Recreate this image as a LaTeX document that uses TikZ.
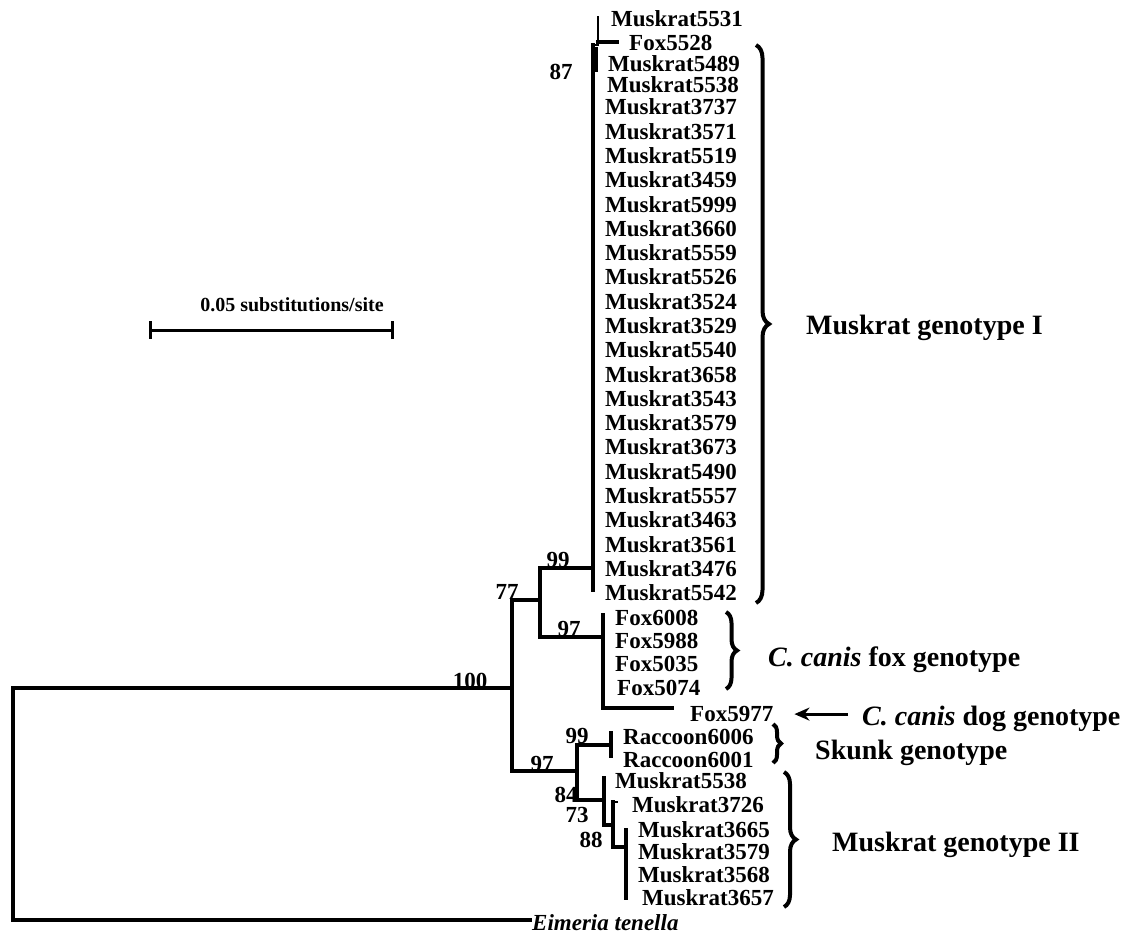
\documentclass[tikz,border=0pt]{standalone}
\usepackage{fontspec}
\setmainfont{Liberation Serif}
\usetikzlibrary{decorations.pathreplacing,arrows.meta}
\begin{document}
\begin{tikzpicture}[x=1pt,y=-1pt,
  br/.style={line width=3.5pt, line cap=rect},
  thinbr/.style={line width=2.2pt, line cap=rect},
  leaf/.style={anchor=base west, inner sep=0pt, font=\fontsize{23}{23}\selectfont\bfseries},
  boot/.style={inner sep=0pt, font=\fontsize{23}{23}\selectfont\bfseries},
  grp/.style={anchor=base west, inner sep=0pt, font=\fontsize{28}{28}\selectfont\bfseries},
  brc/.style={decorate, decoration={brace, amplitude=#1}, line width=4pt},
  arr/.style={line width=3pt, -{Stealth[length=15pt,width=13pt]}}]
\useasboundingbox[fill=white] (0,0) rectangle (1131,933);

% ---- tree coordinates
\coordinate (root) at (13,688);
\coordinate (rootb) at (13,920);
\coordinate (eim) at (530,920);
\coordinate (nA) at (512,688);
\coordinate (nAt) at (512,600);
\coordinate (nAb) at (512,771);
\coordinate (nBt) at (540,568);
\coordinate (nBm) at (540,600);
\coordinate (nBb) at (540,637);
\coordinate (nC) at (593,568);
\coordinate (nCt) at (593,45);
\coordinate (nCb) at (593,590);
\coordinate (nD) at (603,637);
\coordinate (nDt) at (603,615);
\coordinate (nDb) at (603,708);
\coordinate (f77) at (672,708);
\coordinate (nEt) at (577,745);
\coordinate (nEm) at (577,771);
\coordinate (nEb) at (577,800);
\coordinate (nR) at (611,745);
\coordinate (nRt) at (611,733);
\coordinate (nRb) at (611,756);
\coordinate (nF) at (604,800);
\coordinate (nFt) at (604,778);
\coordinate (nFb) at (604,825);
\coordinate (nG) at (613,825);
\coordinate (nGt) at (613,802);
\coordinate (nGh) at (617,802);
\coordinate (nGb) at (613,847);
\coordinate (nH) at (626,847);
\coordinate (nHt) at (626,830);
\coordinate (nHb) at (626,898);
\coordinate (k87t) at (598,17);
\coordinate (k87b) at (598,45);
\coordinate (k87m) at (598,42);
\coordinate (k87f) at (617,42);
\coordinate (k87c) at (593,45);
\coordinate (thk1) at (595,47);
\coordinate (thk2) at (595,72);

% ---- branches
\draw[br] (nA) -- (root) -- (rootb) -- (eim);
\draw[br] (nAt) -- (nAb);
\draw[br] (nAt) -- (nBm);
\draw[br] (nBt) -- (nBb);
\draw[br] (nBt) -- (nC);
\draw[br] (nCt) -- (nCb);
\draw[br] (nBb) -- (nD);
\draw[br] (nDt) -- (nDb) -- (f77);
\draw[br] (nAb) -- (nEm);
\draw[br] (nEt) -- (nEb);
\draw[br] (nEt) -- (nR);
\draw[br] (nRt) -- (nRb);
\draw[br] (nEb) -- (nF);
\draw[br] (nFt) -- (nFb) -- (nG);
\draw[br] (nGt) -- (nGb) -- (nH);
\draw[thinbr] (nGt) -- (nGh);
\draw[br] (nHt) -- (nHb);
\draw[thinbr] (k87t) -- (k87b);
\draw[thinbr] (k87c) -- (k87b);
\draw[br] (k87m) -- (k87f);
\draw[line width=5pt] (thk1) -- (thk2);

% ---- leaves, Muskrat genotype I
\node[leaf] (m5531) at (611,26.5) {Muskrat5531};
\node[leaf] (f5528) at (629,50.6) {Fox5528};
\node[leaf] (m5489) at (608,71.6) {Muskrat5489};
\node[leaf] (m5538) at (607,93) {Muskrat5538};
\foreach \t [count=\i from 0] in {3737,3571,5519,3459,5999,3660,5559,5526,3524,3529,5540,3658,3543,3579,3673,5490,5557,3463,3561,3476,5542}
  \node[leaf] (mI\i) at (605,115+\i*24.28) {Muskrat\t};

% ---- fox genotype
\node[leaf] (f6008) at (615,625.6) {Fox6008};
\node[leaf] (f5988) at (615,648.6) {Fox5988};
\node[leaf] (f5035) at (615,671.6) {Fox5035};
\node[leaf] (f5074) at (617,695.6) {Fox5074};
\node[leaf] (f5977) at (690,721.6) {Fox5977};

% ---- skunk / muskrat II
\node[leaf] (r6006) at (623,744.6) {Raccoon6006};
\node[leaf] (r6001) at (623,767.6) {Raccoon6001};
\node[leaf] (mII1) at (615,788.6) {Muskrat5538};
\node[leaf] (mII2) at (632,812.6) {Muskrat3726};
\node[leaf] (mII3) at (638,837.6) {Muskrat3665};
\node[leaf] (mII4) at (638,859.6) {Muskrat3579};
\node[leaf] (mII5) at (638,882.6) {Muskrat3568};
\node[leaf] (mII6) at (642,905.6) {Muskrat3657};
\node[leaf] (eimt) at (532,930) {\itshape Eimeria tenella};

% ---- bootstrap values
\node[boot] (b100) at (470,681) {100};
\node[boot] (b77) at (507,592) {77};
\node[boot] (b99a) at (558,560) {99};
\node[boot] (b97a) at (569,629) {97};
\node[boot] (b87) at (561,72) {87};
\node[boot] (b97b) at (542,764) {97};
\node[boot] (b99b) at (577,736) {99};
\node[boot] (b84) at (566,795) {84};
\node[boot] (b73) at (577,815) {73};
\node[boot] (b88) at (591,840) {88};

% ---- braces and group labels
\coordinate (bI1) at (756,45);
\coordinate (bI2) at (756,603);
\draw[brc=13pt] (bI1) -- (bI2);
\node[grp] (gI) at (806,334) {Muskrat genotype I};
\coordinate (bF1) at (726,612);
\coordinate (bF2) at (726,689);
\draw[brc=11pt] (bF1) -- (bF2);
\node[grp] (gF) at (768,666) {\itshape C. canis\upshape{} fox genotype};
\node[grp] (gD) at (862,725) {\itshape C. canis\upshape{} dog genotype};
\draw[arr] ([xshift=-14pt]gD.west |- f5977.west) -- ([xshift=21pt]f5977.east);
\coordinate (bS1) at (773,724);
\coordinate (bS2) at (773,763);
\draw[brc=8pt] (bS1) -- (bS2);
\node[grp] (gS) at (815,759) {Skunk genotype};
\coordinate (bM1) at (784,772);
\coordinate (bM2) at (784,907);
\draw[brc=12pt] (bM1) -- (bM2);
\node[grp] (gM) at (832,851) {Muskrat genotype II};

% ---- scale bar
\coordinate (sb1) at (150,330);
\coordinate (sb2) at (392,330);
\coordinate (sb1t) at (150,321);
\coordinate (sb1b) at (150,339);
\coordinate (sb2t) at (392,321);
\coordinate (sb2b) at (392,339);
\draw[line width=3pt] (sb1) -- (sb2);
\draw[line width=3pt] (sb1t) -- (sb1b);
\draw[line width=3pt] (sb2t) -- (sb2b);
\node[boot, font=\fontsize{20}{20}\selectfont\bfseries] (sbl) at (292,305) {0.05 substitutions/site};
\end{tikzpicture}
\end{document}
